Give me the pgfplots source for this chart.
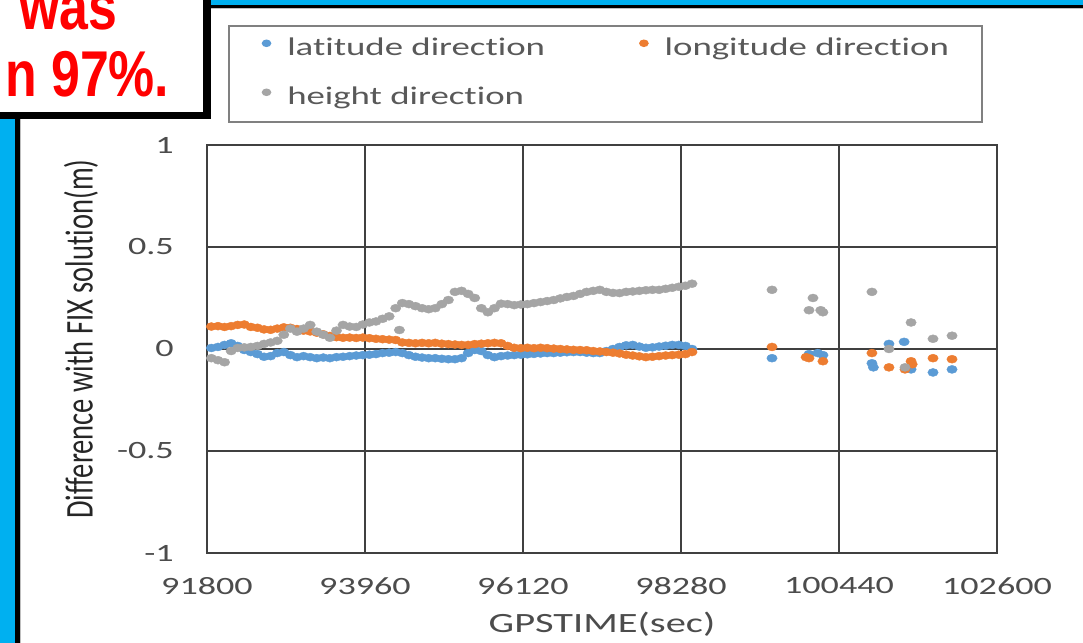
\documentclass[border=0pt]{standalone}
\usepackage{fontspec}
\setmainfont{Carlito}[FakeStretch=1.45, Ligatures=CommonOff]
\newfontfamily\ylfont{Carlito}[Ligatures=CommonOff]
\newfontfamily\redfont{Liberation Sans}
\usepackage{pgfplots}
\usepackage{pgfplotstable}
\pgfplotsset{compat=1.18}
\definecolor{blueC}{HTML}{5B9BD5}
\definecolor{orangeC}{HTML}{ED7D31}
\definecolor{grayC}{HTML}{A5A5A5}
\definecolor{cyanC}{HTML}{00B0F0}
\definecolor{gridC}{HTML}{404040}
\definecolor{textC}{HTML}{595959}

\pgfplotstableread{
t v
91860 0.005
91950 0.01
92040 0.02
92130 0.028
92220 0.015
92310 -0.005
92400 -0.015
92490 -0.025
92580 -0.038
92670 -0.035
92760 -0.02
92850 -0.015
92940 -0.03
93030 -0.04
93120 -0.035
93210 -0.04
93300 -0.045
93390 -0.042
93480 -0.045
93570 -0.04
93660 -0.038
93750 -0.035
93840 -0.032
93930 -0.03
94020 -0.028
94110 -0.025
94200 -0.02
94290 -0.018
94380 -0.015
94470 -0.02
94560 -0.03
94650 -0.038
94740 -0.042
94830 -0.045
94920 -0.045
95010 -0.048
95100 -0.05
95190 -0.05
95280 -0.045
95370 -0.02
95460 -0.005
95550 -0.01
95640 -0.03
95730 -0.04
95820 -0.035
95910 -0.032
96000 -0.03
96090 -0.028
96180 -0.026
96270 -0.024
96360 -0.022
96450 -0.02
96540 -0.02
96630 -0.018
96720 -0.016
96810 -0.015
96900 -0.015
96990 -0.018
97080 -0.02
97170 -0.02
97260 -0.01
97350 0.0
97440 0.01
97530 0.018
97620 0.02
97710 0.012
97800 0.006
97890 0.008
97980 0.012
98070 0.016
98160 0.02
98250 0.02
98340 0.015
98430 0.0
99524 -0.045
100030 -0.025
100150 -0.02
100220 -0.03
100890 -0.07
100910 -0.09
101123 0.025
101330 0.035
101425 -0.1
101725 -0.115
101985 -0.1
}\latdata

\pgfplotstableread{
t v
91860 0.11
91950 0.112
92040 0.108
92130 0.112
92220 0.118
92310 0.12
92400 0.108
92490 0.104
92580 0.096
92670 0.094
92760 0.1
92850 0.106
92940 0.104
93030 0.098
93120 0.09
93210 0.086
93300 0.08
93390 0.072
93480 0.064
93570 0.058
93660 0.055
93750 0.056
93840 0.054
93930 0.056
94020 0.053
94110 0.05
94200 0.048
94290 0.046
94380 0.044
94470 0.032
94560 0.03
94650 0.028
94740 0.03
94830 0.028
94920 0.03
95010 0.026
95100 0.024
95190 0.022
95280 0.02
95370 0.02
95460 0.024
95550 0.026
95640 0.028
95730 0.03
95820 0.028
95910 0.015
96000 0.006
96090 0.004
96180 0.006
96270 0.004
96360 0.006
96450 0.004
96540 0.002
96630 0.0
96720 -0.002
96810 -0.004
96900 -0.005
96990 -0.006
97080 -0.01
97170 -0.012
97260 -0.015
97350 -0.018
97440 -0.022
97530 -0.028
97620 -0.032
97710 -0.036
97800 -0.04
97890 -0.038
97980 -0.035
98070 -0.032
98160 -0.03
98250 -0.028
98340 -0.025
98430 -0.015
99524 0.01
99990 -0.04
100030 -0.045
100220 -0.06
100890 -0.02
101123 -0.09
101342 -0.1
101425 -0.06
101440 -0.075
101725 -0.045
101985 -0.05
}\londata

\pgfplotstableread{
t v
91860 -0.045
91950 -0.055
92040 -0.065
92130 -0.01
92220 0.005
92310 0.008
92400 0.01
92490 0.015
92580 0.025
92670 0.032
92760 0.04
92850 0.07
92940 0.1
93030 0.085
93120 0.1
93210 0.118
93300 0.085
93390 0.07
93480 0.055
93570 0.09
93660 0.118
93750 0.11
93840 0.108
93930 0.12
94020 0.13
94110 0.135
94200 0.148
94290 0.16
94380 0.2
94430 0.093
94470 0.225
94560 0.22
94650 0.21
94740 0.2
94830 0.195
94920 0.2
95010 0.22
95100 0.24
95190 0.28
95280 0.285
95370 0.27
95460 0.25
95550 0.2
95640 0.18
95730 0.2
95820 0.222
95910 0.22
96000 0.215
96090 0.218
96180 0.22
96270 0.225
96360 0.23
96450 0.235
96540 0.24
96630 0.248
96720 0.255
96810 0.26
96900 0.27
96990 0.28
97080 0.285
97170 0.29
97260 0.28
97350 0.275
97440 0.274
97530 0.28
97620 0.282
97710 0.285
97800 0.288
97890 0.29
97980 0.29
98070 0.295
98160 0.3
98250 0.305
98340 0.31
98430 0.32
99524 0.29
100030 0.19
100084 0.25
100190 0.19
100220 0.18
100890 0.28
101123 0.0
101342 -0.09
101425 0.13
101725 0.05
101985 0.065
}\hgtdata

\begin{document}
\begin{tikzpicture}[x=1bp,y=1bp]
\useasboundingbox (0,0) rectangle (1083,643);
\clip (0,0) rectangle (1083,643);
\fill[white] (0,0) rectangle (1083,643);
% slide decorations
\fill[cyanC] (211,638) rectangle (1083,643);
\fill[black] (211,635) rectangle (1083,638);
\fill[black!25] (211,634) rectangle (1083,635);
\fill[cyanC] (0,0) rectangle (15,524);
\fill[black] (15,0) rectangle (20,524);
\fill[black!25] (20,0) rectangle (21,524);
\fill[black] (203,524) rectangle (211,643);
\fill[black] (0,524) rectangle (211,531);
\node[anchor=base west, inner sep=0, text=red] at (19,613)
  {\redfont\bfseries\fontsize{65}{65}\selectfont\scalebox{0.8}[1]{was}};
\node[anchor=base west, inner sep=0, text=red] at (5,546)
  {\redfont\bfseries\fontsize{65}{65}\selectfont\scalebox{0.8}[1]{n 97\%.}};

\begin{axis}[
  at={(207bp,90bp)}, anchor=south west,
  scale only axis, width=790bp, height=408bp,
  xmin=91800, xmax=102600, ymin=-1, ymax=1,
  scaled x ticks=false, scaled y ticks=false,
  xtick={91800,93960,96120,98280,100440,102600},
  xticklabels={91800,93960,96120,98280,100440,102600},
  ytick={-1,-0.5,0,0.5,1},
  yticklabels={-1,-0.5,0,0.5,1},
  major tick length=0pt,
  grid=major,
  grid style={draw=gridC, line width=1.3bp},
  axis line style={draw=gridC, line width=1.3bp},
  tick label style={font=\fontsize{25}{27}\selectfont, text=black!70, inner sep=0pt},
  xticklabel style={anchor=north, yshift=-24bp},
  yticklabel style={anchor=east, xshift=-33bp},
  xlabel={GPSTIME(sec)},
  xlabel style={at={(axis description cs:0.5,0)}, anchor=base, yshift=-80bp,
    font=\fontsize{28}{30}\selectfont, text=black!70, inner sep=0pt},
  ylabel={\ylfont\fontsize{28.6}{30}\selectfont\scalebox{1}[1.38]{Difference with FIX solution(m)}},
  ylabel style={at={(axis description cs:-0.1595,0.5245)}, anchor=center, text=black!85, inner sep=0pt},
  legend columns=2,
  legend cell align=left,
  legend image code/.code={\fill[#1] (0bp,6bp) ellipse [x radius=4bp, y radius=3bp];},
  legend style={at={(axis description cs:0.0266,1.294)}, anchor=north west,
    draw=black!50, line width=1.5bp, fill=white,
    inner xsep=33bp, inner ysep=12bp,
    font=\fontsize{25.5}{28}\selectfont, text=textC,
    nodes={inner sep=0pt, text height=18bp, text depth=5bp},
    /tikz/every odd column/.append style={column sep=16bp},
    /tikz/every even column/.append style={column sep=94bp},
    row sep=26bp},
]
\addplot[only marks, mark=*, color=blueC, mark size=4bp, mark options={xscale=1.3}] table[x=t,y=v] {\latdata};
\addlegendentry{latitude direction}
\addplot[only marks, mark=*, color=orangeC, mark size=4bp, mark options={xscale=1.3}] table[x=t,y=v] {\londata};
\addlegendentry{longitude direction}
\addplot[only marks, mark=*, color=grayC, mark size=4bp, mark options={xscale=1.3}] table[x=t,y=v] {\hgtdata};
\addlegendentry{height direction}
\end{axis}
\end{tikzpicture}
\end{document}
